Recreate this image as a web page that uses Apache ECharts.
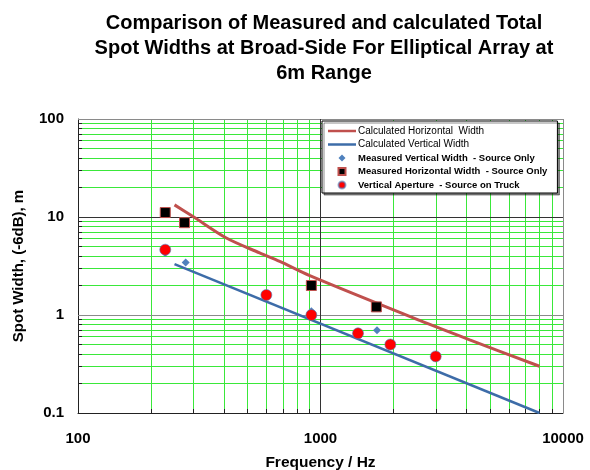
<!DOCTYPE html>
<html>
<head>
<meta charset="utf-8">
<script src="https://cdn.jsdelivr.net/npm/echarts@6/dist/echarts.min.js"></script>
<style>
  html, body { margin: 0; padding: 0; background: #fff; }
  #chart { width: 590px; height: 470px; }
</style>
</head>
<body>
<div id="chart"></div>
<script>
// Calculated spot widths (frequency Hz, width m)
const calcHorizontal = [[250, 13.3], [298, 10.1], [409, 6.1], [561, 4.3], [679, 3.52],
                        [903, 2.52], [2565, 0.88], [4122, 0.558], [8000, 0.3]];
const calcVertical = [[250, 3.3], [8000, 0.1]];

// Measured spot widths
const measVertical = [[229, 4.3], [278, 3.44], [917, 1.09], [1710, 0.70]];
const measHorizontal = [[229, 11.1], [275, 8.75], [917, 2.0], [1700, 1.21]];
const vertAperture = [[229, 4.64], [598, 1.6], [917, 1.0], [1428, 0.65], [1941, 0.5], [2986, 0.378]];

// Axis ranges, tick labels and grid-line positions
const xRange = [100, 10000];
const yRange = [0.1, 100];
const xTickLabels = ['100', '1000', '10000'];
const yTickLabels = ['0.1', '1', '10', '100'];
const xMajorDark = [1000];
const yMajorDark = [10];
const xMajorGrey = [10000];
const yMajorGrey = [1, 100];
const xMinorLines = [200, 300, 400, 500, 600, 700, 800, 900, 2000, 3000, 4000, 5000, 6000, 7000, 8000, 9000];
const yMinorLines = [0.2, 0.3, 0.4, 0.5, 0.6, 0.7, 0.8, 0.9, 2, 3, 4, 5, 6, 7, 8, 9, 20, 30, 40, 50, 60, 70, 80, 90];

const FONT = "'Liberation Sans', Arial, sans-serif";
const chart = echarts.init(document.getElementById('chart'), null, { renderer: 'canvas' });

function tickFormatter(labels) {
  return function (v) {
    const s = String(+v.toPrecision(6));
    return labels.indexOf(s) >= 0 ? s : '';
  };
}

const minorGrid = xMinorLines.map(v => ({ xAxis: v }))
  .concat(yMinorLines.map(v => ({ yAxis: v })));
const darkGrid = xMajorDark.map(v => ({ xAxis: v }))
  .concat(yMajorDark.map(v => ({ yAxis: v })));
const greyGrid = xMajorGrey.map(v => ({ xAxis: v }))
  .concat(yMajorGrey.map(v => ({ yAxis: v })));

// short inward tick marks at the minor grid positions (about 4 px long)
const xTickLen = Math.pow(10, 4 / 98);
const yTickLen = Math.pow(10, 4 / 242);
const minorTicks = xMinorLines.map(v => [{ coord: [v, yRange[0]] }, { coord: [v, yRange[0] * xTickLen] }])
  .concat(yMinorLines.map(v => [{ coord: [xRange[0], v] }, { coord: [xRange[0] * yTickLen, v] }]));

const LEG_LINE = 'path://M0,0 L28,0 L28,2.5 L0,2.5 Z';
const LEG_DIAMOND = 'path://M5,0 L10,5 L5,10 L0,5 Z';
const LEG_RECT = 'path://M0,0 L10,0 L10,10 L0,10 Z';
const LEG_CIRCLE = 'circle';

function gridSeries(name, data, color, z) {
  return {
    type: 'line',
    name: name,
    data: [],
    silent: true,
    z: z,
    markLine: {
      silent: true,
      z: z,
      symbol: ['none', 'none'],
      label: { show: false },
      animation: false,
      lineStyle: { color: color, width: 1, type: 'solid' },
      emphasis: { disabled: true },
      data: data
    }
  };
}

chart.setOption({
  animation: false,
  backgroundColor: '#fff',
  textStyle: { fontFamily: FONT },
  title: {
    text: 'Comparison of Measured and calculated Total\nSpot Widths at Broad-Side For Elliptical Array at\n6m Range',
    left: 324,
    top: 11,
    padding: 0,
    textAlign: 'center',
    textStyle: { fontFamily: FONT, fontSize: 20, fontWeight: 'bold', lineHeight: 25, color: '#000' }
  },
  grid: { left: 78, right: 27, top: 119, bottom: 57, containLabel: false, outerBoundsMode: 'none' },
  legend: {
    orient: 'vertical',
    left: 322,
    top: 121,
    z: 10,
    padding: [5, 10, 3, 6],
    itemWidth: 28,
    itemHeight: 7,
    itemGap: 3.5,
    backgroundColor: '#fff',
    borderColor: '#000',
    borderWidth: 1,
    shadowColor: 'rgba(0,0,0,0.45)',
    shadowOffsetX: 2,
    shadowOffsetY: 2,
    textStyle: { fontFamily: FONT, fontSize: 10, lineHeight: 10, color: '#000', padding: [0, 0, 0, -3] },
    data: [
      { name: 'Calculated Horizontal  Width', icon: LEG_LINE },
      { name: 'Calculated Vertical Width', icon: LEG_LINE },
      { name: 'Measured Vertical Width  - Source Only', icon: LEG_DIAMOND, textStyle: { fontWeight: 'bold', fontSize: 9.5 } },
      { name: 'Measured Horizontal Width  - Source Only', icon: LEG_RECT, textStyle: { fontWeight: 'bold', fontSize: 9.5 } },
      { name: 'Vertical Aperture  - Source on Truck', icon: LEG_CIRCLE, textStyle: { fontWeight: 'bold', fontSize: 9.5 } }
    ]
  },
  xAxis: {
    type: 'log',
    logBase: 10,
    min: xRange[0],
    max: xRange[1],
    name: 'Frequency / Hz',
    nameLocation: 'middle',
    nameGap: 41.5,
    nameTextStyle: { fontFamily: FONT, fontSize: 15.5, fontWeight: 'bold', color: '#000' },
    axisLine: { lineStyle: { color: '#222', width: 1 } },
    axisTick: { inside: true, length: 4, lineStyle: { color: '#222' } },
    axisLabel: { formatter: tickFormatter(xTickLabels), fontFamily: FONT, fontSize: 15, fontWeight: 'bold', color: '#000', margin: 18 },
    splitLine: { show: false }
  },
  yAxis: {
    type: 'log',
    logBase: 10,
    min: yRange[0],
    max: yRange[1],
    name: 'Spot Width, (-6dB), m',
    nameLocation: 'middle',
    nameGap: 52,
    nameTextStyle: { fontFamily: FONT, fontSize: 15, fontWeight: 'bold', color: '#000' },
    axisLine: { show: true, lineStyle: { color: '#222', width: 1 } },
    axisTick: { show: true, inside: true, length: 4, lineStyle: { color: '#222' } },
    axisLabel: { formatter: tickFormatter(yTickLabels), fontFamily: FONT, fontSize: 15, fontWeight: 'bold', color: '#000', margin: 14 },
    splitLine: { show: false }
  },
  series: [
    gridSeries('minor-grid', minorGrid, '#3ae83a', 1),
    gridSeries('grey-grid', greyGrid, '#8a8a8a', 2),
    gridSeries('dark-grid', darkGrid, '#333333', 2),
    gridSeries('minor-ticks', minorTicks, '#222222', 2),
    {
      name: 'Calculated Horizontal  Width',
      type: 'line',
      data: calcHorizontal,
      symbol: 'none',
      smooth: 0.3,
      z: 3,
      lineStyle: { color: '#c0504d', width: 3 },
      itemStyle: { color: '#c0504d' }
    },
    {
      name: 'Calculated Vertical Width',
      type: 'line',
      data: calcVertical,
      symbol: 'none',
      z: 3,
      lineStyle: { color: '#3d6ca8', width: 2.5 },
      itemStyle: { color: '#3d6ca8' }
    },
    {
      name: 'Measured Vertical Width  - Source Only',
      type: 'scatter',
      data: measVertical,
      symbol: 'diamond',
      symbolSize: 8,
      symbolKeepAspect: true,
      z: 4,
      itemStyle: { color: '#4f81bd', opacity: 1 }
    },
    {
      name: 'Measured Horizontal Width  - Source Only',
      type: 'scatter',
      data: measHorizontal,
      symbol: 'rect',
      symbolSize: 10,
      symbolKeepAspect: true,
      z: 4,
      itemStyle: { color: '#000', borderColor: '#c0504d', borderWidth: 1, opacity: 1 }
    },
    {
      name: 'Vertical Aperture  - Source on Truck',
      type: 'scatter',
      data: vertAperture,
      symbol: 'circle',
      symbolSize: 11,
      symbolKeepAspect: true,
      z: 5,
      itemStyle: { color: '#ff0000', borderColor: 'rgba(79,129,189,0.6)', borderWidth: 1, opacity: 1 }
    }
  ]
});
</script>
</body>
</html>
